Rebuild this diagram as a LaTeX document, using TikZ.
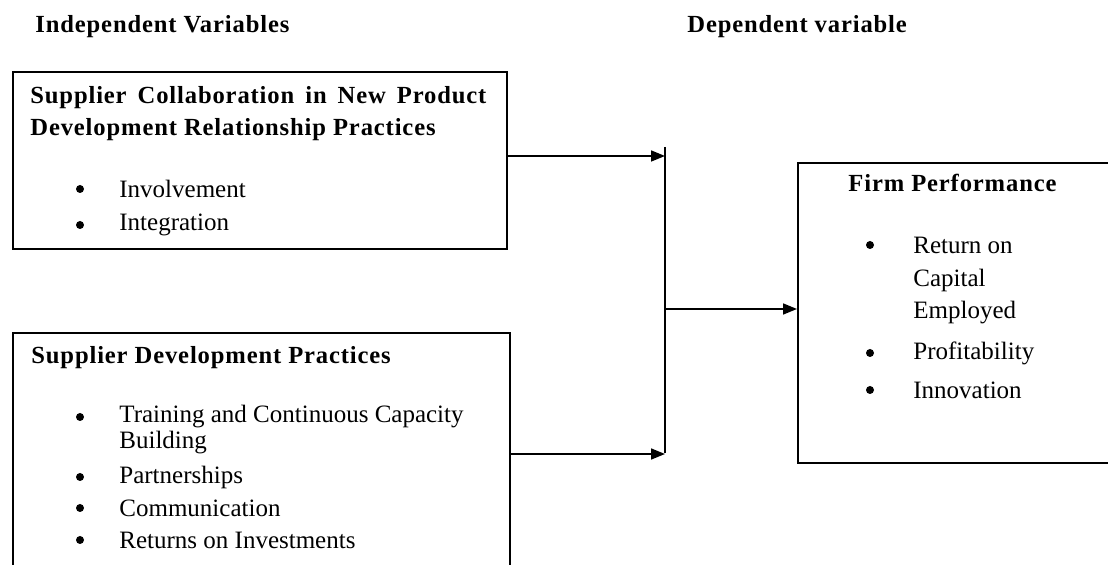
\documentclass[tikz,border=0pt]{standalone}
\usepackage{fontspec}
\setmainfont{Liberation Serif}
\usetikzlibrary{arrows.meta}

\begin{document}
\begin{tikzpicture}[x=0.5pt, y=-0.5pt,
    box/.style={draw, line width=1pt, anchor=north west, inner sep=0pt},
    head/.style={anchor=west, inner sep=0pt,
        font=\fontsize{12.3}{14}\selectfont\bfseries\addfontfeature{LetterSpace=3.5}},
    item/.style={anchor=west, inner sep=0pt, font=\fontsize{12.5}{14}\selectfont},
    dot/.style={circle, fill, inner sep=0pt, minimum size=4pt},
    link/.style={line width=0.8pt, -{Triangle[length=7pt, width=5.5pt]}}]

    \clip (0,0) rectangle (1108,565);

    %% Headings
    \node[head] (indep) at (35,27) {Independent Variables};
    \node[head] (dep) at (687,27) {Dependent variable};

    %% Boxes
    \node[box, minimum width=247pt, minimum height=88.5pt] (collab) at (12,71) {};
    \node[box, minimum width=248.5pt, minimum height=121pt] (devel) at (12,332) {};
    \node[box, minimum width=166.5pt, minimum height=150pt] (perf) at (797,162) {};

    % Supplier collaboration
    \node[head] (collab-t1) at (30,98) {\makebox[228pt][s]{Supplier Collaboration in New Product}};
    \node[head] (collab-t2) at (30,130) {Development Relationship Practices};
    \foreach \y/\txt [count=\i] in {189/Involvement, 225/Integration} {
        \node[dot] (collab-b\i) at (80,\y) {};
        \node[item] (collab-i\i) at (119,\y) {\txt};
    }

    % Supplier development
    \node[head] (devel-t) at (31,358) {Supplier Development Practices};
    \foreach \y/\txt [count=\i] in {417/Training and Continuous Capacity, 477/Partnerships,
                                    508/Communication, 540/Returns on Investments} {
        \node[dot] (devel-b\i) at (80,\y) {};
        \node[item] (devel-i\i) at (119,\y) {\txt};
    }
    \node[item] (devel-i1b) at (119,443) {Building};

    % Firm performance
    \node[head] (perf-t) at (848,183) {Firm Performance};
    \foreach \y/\txt [count=\i] in {245/Return on, 353/Profitability, 390/Innovation} {
        \node[dot] (perf-b\i) at (870,\y) {};
        \node[item] (perf-i\i) at (913,\y) {\txt};
    }
    \node[item] (perf-i1b) at (913,280) {Capital};
    \node[item] (perf-i1c) at (913,313) {Employed};

    %% Connectors
    \coordinate (jtop) at (665,147);
    \coordinate (jbot) at (665,453);
    \draw[line width=0.8pt] (jtop) -- (jbot);
    \draw[link] ([yshift=2.25pt]collab.east) -- ([yshift=2.25pt]collab.east -| jtop);
    \draw[link] (devel.east) -- (devel.east -| jbot);
    \draw[link] ([yshift=2pt]jtop |- perf.west) -- ([yshift=2pt]perf.west);

\end{tikzpicture}
\end{document}
